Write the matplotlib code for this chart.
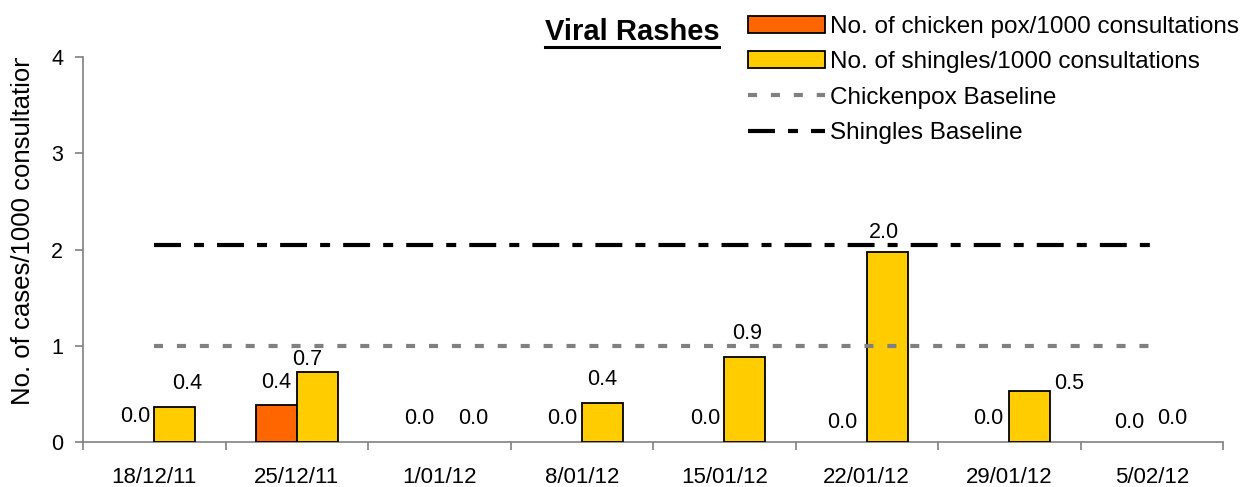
import matplotlib
matplotlib.use('Agg')
import matplotlib.pyplot as plt
import numpy as np
from matplotlib.lines import Line2D
from matplotlib.patches import Patch
from matplotlib.transforms import Bbox, TransformedBbox

plt.rcParams['font.family'] = ['Liberation Sans', 'DejaVu Sans']
plt.rcParams['lines.scale_dashes'] = False

weeks = ['18/12/11', '25/12/11', '1/01/12', '8/01/12', '15/01/12', '22/01/12', '29/01/12', '5/02/12']
chickenpox = [0.0, 0.38, 0.0, 0.0, 0.0, 0.0, 0.0, 0.0]
shingles = [0.36, 0.73, 0.0, 0.41, 0.88, 1.97, 0.53, 0.0]
chickenpox_baseline = [1.0, 1.0, 1.0, 1.0, 1.0, 1.0, 1.0, 1.0]
shingles_baseline = [2.05, 2.05, 2.05, 2.05, 2.05, 2.05, 2.05, 2.05]

# label offsets (pixels) from top of each bar, Excel put them a bit anywhere
cp_off = [(1, 26), (0, 23), (0, 24), (1, 24), (1, 24), (-4, 20), (-1, 24), (-2, 19)]
sh_off = [(12, 24), (-10, 12), (14, 24), (0, 23), (2, 24), (-3, 20), (39, 7), (0, 24)]

fig = plt.figure(figsize=(12.49, 4.87), dpi=100)
ax = fig.add_axes([83 / 1249, 1 - 442 / 487, (1223 - 83) / 1249, (442 - 57) / 487])

x = np.arange(len(weeks))
w = 0.287
ax.bar(x - w / 2, chickenpox, w, color='#FF6600', edgecolor='black',
       linewidth=[1.3 if v > 0 else 0 for v in chickenpox], zorder=3)
ax.bar(x + w / 2, shingles, w, color='#FFCC00', edgecolor='black',
       linewidth=[1.3 if v > 0 else 0 for v in shingles], zorder=3)
l1, = ax.plot(x, chickenpox_baseline, color='#808080', lw=3, dashes=(6.5, 10),
              label='Chickenpox Baseline', zorder=4)
l2, = ax.plot(x, shingles_baseline, color='black', lw=3, dashes=(19.4, 9.4, 7.2, 9.4),
              label='Shingles Baseline', zorder=4)

for i in range(len(weeks)):
    ax.annotate('%.1f' % chickenpox[i], (x[i] - w / 2, chickenpox[i]), xytext=cp_off[i],
                textcoords='offset pixels', ha='center', va='center', fontsize=15.5, zorder=5)
    ax.annotate('%.1f' % shingles[i], (x[i] + w / 2, shingles[i]), xytext=sh_off[i],
                textcoords='offset pixels', ha='center', va='center', fontsize=15.5, zorder=5)

ax.set_xlim(-0.5, len(weeks) - 0.5)
ax.set_ylim(0, 4)
ax.set_yticks([0, 1, 2, 3, 4])
ax.set_xticks(x)
ax.set_xticklabels(weeks)
ax.set_xticks(np.arange(-0.5, len(weeks)), minor=True)
ax.tick_params(axis='x', which='major', length=0, pad=18, labelsize=16)
ax.tick_params(axis='x', which='minor', length=5.8, width=1.2, color='#808080', direction='out')
ax.tick_params(axis='y', length=5.8, width=1.2, color='#808080', pad=8.6, labelsize=15.5)
for s in ['top', 'right']:
    ax.spines[s].set_visible(False)
for s in ['left', 'bottom']:
    ax.spines[s].set_color('#808080')
    ax.spines[s].set_linewidth(1.2)

ylab = fig.text(23 / 1249, 1 - 405 / 487, 'No. of cases/1000 consultations', rotation=90,
                ha='center', va='bottom', fontsize=18.5)
ylab.set_clip_box(TransformedBbox(Bbox([[0, 0], [1, 1 - 58 / 487]]), fig.transFigure))
ylab.set_clip_on(True)

title = fig.text(632 / 1249, 1 - 32 / 487, 'Viral Rashes', ha='center', va='center',
                 fontsize=21, fontweight='bold')

p1 = Patch(facecolor='#FF6600', edgecolor='black', linewidth=1.3)
p2 = Patch(facecolor='#FFCC00', edgecolor='black', linewidth=1.3)
leg = ax.legend([p1, p2, l1, l2],
                ['No. of chicken pox/1000 consultations', 'No. of shingles/1000 consultations',
                 l1.get_label(), l2.get_label()],
                loc='upper left', bbox_to_anchor=(731 / 1249, 1 + 1 / 487),
                bbox_transform=fig.transFigure, frameon=False, fontsize=17.5,
                handlelength=3.17, handletextpad=0.22, labelspacing=0.55, borderpad=0.2)

fig.canvas.draw()
bb = title.get_window_extent()
fig.add_artist(Line2D([bb.x0 / 1249, bb.x1 / 1249], [(bb.y0 - 1) / 487, (bb.y0 - 1) / 487],
                      color='black', lw=2.2, transform=fig.transFigure))

fig.savefig('out.png', dpi=100)
